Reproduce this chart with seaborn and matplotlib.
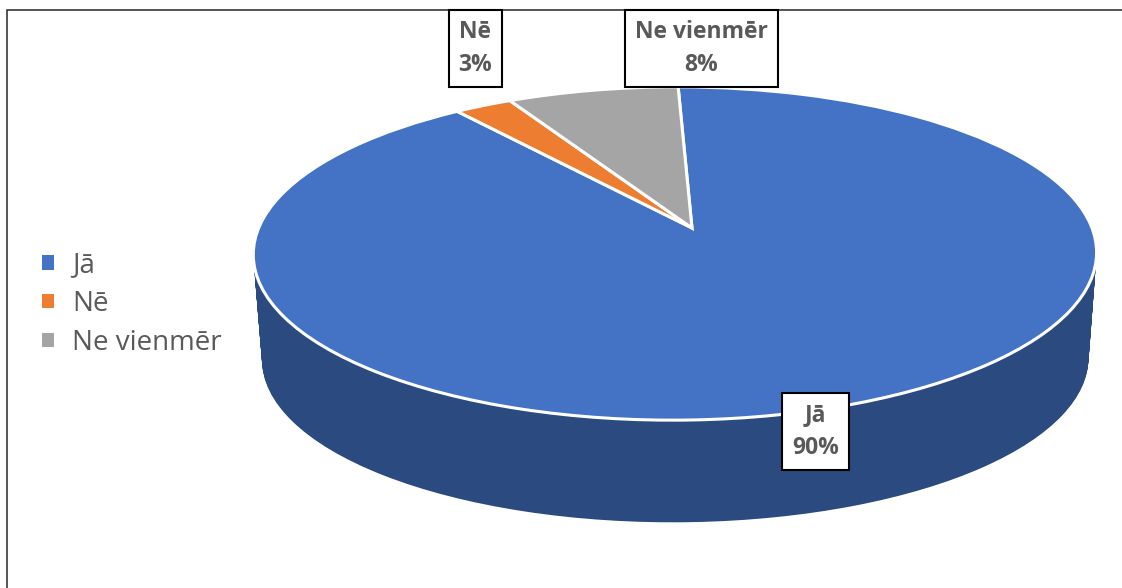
import math
import numpy as np
import matplotlib
matplotlib.use("Agg")
import matplotlib.pyplot as plt
import seaborn as sns
from matplotlib.patches import Patch
from matplotlib.transforms import Transform

# answers to the survey question (counts, 40 replies)
labels = ["Jā", "Nē", "Ne vienmēr"]
counts = [36, 1, 3]
colors = ["#4472C4", "#ED7D31", "#A5A5A5"]
side_colors = ["#2B4A7F", "#9C5220", "#6C6C6C"]

# layout of the tilted pie (pixel coords, y down)
W, H = 1122, 588
CX, CY = 692, 228          # projected centre of the top face
RX, RY = 416, 162.6        # horizontal / vertical radius
DEPTH = 106                # drop of the bottom face
BOTTOM_SCALE = 0.98
START = 92.2

# label boxes: (x, y) centre of each box
label_pos = [(815.5, 431.5), (475.5, 48.5), (701.5, 48.5)]


class Tilt(Transform):
    '''perspective view of the unit circle lying flat'''
    input_dims = output_dims = 2
    is_separable = False
    has_inverse = False

    def __init__(self, cx, cy, rx, ry, k=0.153, m=0.04):
        super().__init__()
        self.cx, self.cy, self.rx, self.ry = cx, cy, rx, ry
        self.k, self.m = k, m

    def transform_non_affine(self, values):
        values = np.asarray(values, dtype=float)
        u, v = values[:, 0], values[:, 1]
        w = 1 + self.k * v + self.m * u
        return np.column_stack([self.cx + self.rx * u / w, self.cy - self.ry * v / w])


def draw_pie(ax, cols, cy, scale, wedgeprops):
    wedges, _ = ax.pie(counts, colors=cols, startangle=START, counterclock=False,
                       labeldistance=None, wedgeprops=wedgeprops)
    tr = Tilt(CX, cy, RX * scale, RY * scale) + ax.transData
    for w in wedges:
        w.set_transform(tr)
    return wedges


sns.set_theme(style="white")
plt.rcParams["font.family"] = ["Open Sans", "DejaVu Sans"]

fig = plt.figure(figsize=(W / 100, H / 100), dpi=100)
ax = fig.add_axes([0, 0, 1, 1])

# side of the cylinder: stack of darker pies
for t in np.linspace(1, 0, DEPTH + 1):
    draw_pie(ax, side_colors, CY + t * DEPTH, 1 - t * (1 - BOTTOM_SCALE),
             dict(linewidth=0))

# top face
draw_pie(ax, colors, CY, 1.0, dict(edgecolor="white", linewidth=2.2))

ax.set_aspect("auto")
ax.set_xlim(0, W)
ax.set_ylim(H, 0)
ax.axis("off")

# chart border, only top and left edges fall inside the crop
ax.plot([7, 7, W], [H, 10, 10], color="#262626", lw=1.1, solid_joinstyle="miter")

total = sum(counts)
for lab, c, (x, y) in zip(labels, counts, label_pos):
    pct = math.floor(100 * c / total + 0.5)
    ax.text(x, y, "{}\n{}%".format(lab, pct), ha="center", va="center",
            fontsize=16.5, fontweight="bold", color="#595959", linespacing=1.55,
            bbox=dict(boxstyle="square,pad=0.42", fc="white", ec="black", lw=1.5),
            zorder=10)

handles = [Patch(facecolor=c, edgecolor="none") for c in colors]
ax.legend(handles, labels, loc="center left", bbox_to_anchor=(42 / W, 1 - 304 / H),
          frameon=False, fontsize=20, labelcolor="#595959", handlelength=0.43,
          handleheight=0.43, handletextpad=0.65, labelspacing=0.39,
          borderpad=0, borderaxespad=0)

fig.savefig("out.png", dpi=100)
